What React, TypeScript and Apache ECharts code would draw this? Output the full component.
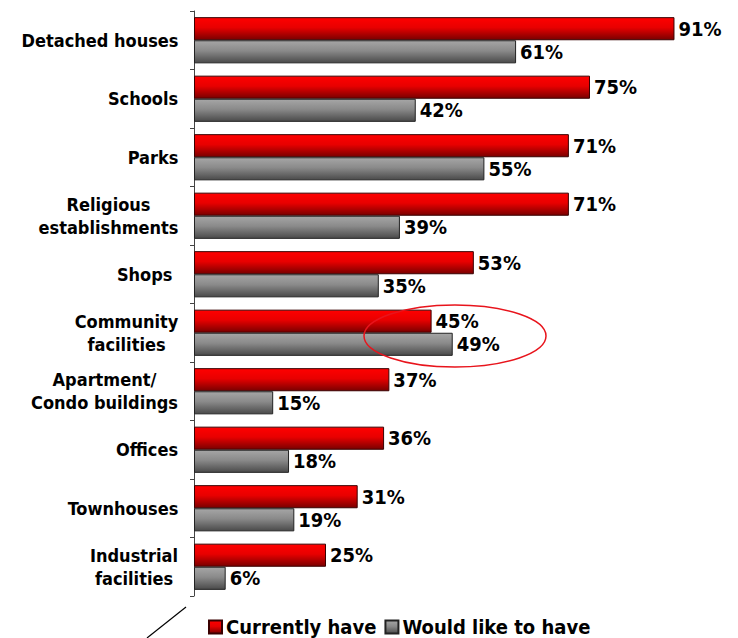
import React, { useEffect, useRef } from "react";
import * as echarts from "echarts";

const categories = [
  "Detached houses",
  "Schools",
  "Parks",
  "Religious\nestablishments",
  "Shops ",
  "Community\nfacilities",
  "Apartment/\nCondo buildings",
  "Offices",
  "Townhouses",
  "Industrial\nfacilities",
];
const currentlyHave = [91, 75, 71, 71, 53, 45, 37, 36, 31, 25];
const wouldLikeToHave = [61, 42, 55, 39, 35, 49, 15, 18, 19, 6];

const FONT = "'DejaVu Sans Condensed', 'DejaVu Sans', Verdana, sans-serif";
const CAT_SIZE = 18;

function measure(text: string, size: number) {
  const c = document.createElement("canvas").getContext("2d");
  if (!c) return text.length * size * 0.6;
  c.font = `bold ${size}px ${FONT}`;
  return c.measureText(text).width;
}

export default function App() {
  const ref = useRef<HTMLDivElement>(null);
  useEffect(() => {
    document.body.style.margin = "0";
    if (!ref.current) return;
    const chart = echarts.init(ref.current, null, { renderer: "svg" });
    const rich: Record<string, any> = {};
    categories.forEach((c, i) => {
      const w = Math.max(...c.split("\n").map((l) => measure(l, CAT_SIZE)));
      rich["c" + i] = {
        width: Math.ceil(w) + 1,
        align: "center",
        fontFamily: FONT,
        fontWeight: "bold",
        fontSize: CAT_SIZE,
        color: "#000",
        lineHeight: 23,
      };
    });
    const redGrad = new echarts.graphic.LinearGradient(0, 0, 0, 1, [
      { offset: 0, color: "#ff0000" },
      { offset: 0.45, color: "#e80000" },
      { offset: 1, color: "#7a0000" },
    ]);
    const grayGrad = new echarts.graphic.LinearGradient(0, 0, 0, 1, [
      { offset: 0, color: "#a6a6a6" },
      { offset: 0.45, color: "#8a8a8a" },
      { offset: 1, color: "#4a4a4a" },
    ]);
    const valueLabel = {
      show: true,
      position: "right",
      distance: 4,
      formatter: "{c}%",
      fontFamily: FONT,
      fontWeight: "bold",
      fontSize: 20,
      color: "#000",
    };
    chart.setOption({
      animation: false,
      backgroundColor: "#fff",
      grid: { left: 194, right: 16, top: 11, bottom: 42, containLabel: false },
      xAxis: { type: "value", min: 0, max: 100, show: false },
      yAxis: {
        type: "category",
        inverse: true,
        data: categories,
        axisLine: { show: true, lineStyle: { color: "#444", width: 1 } },
        axisTick: { show: true, length: 4, lineStyle: { color: "#444" } },
        axisLabel: {
          margin: 15,
          align: "right",
          formatter: (v: string, i: number) =>
            v
              .split("\n")
              .map((l) => `{c${i}|${l}}`)
              .join("\n"),
          rich,
        },
      },
      legend: {
        left: 208,
        top: 617,
        padding: 0,
        itemWidth: 13,
        itemHeight: 13,
        itemGap: 8,
        icon: "rect",
        textStyle: {
          fontFamily: FONT,
          fontWeight: "bold",
          fontSize: 20,
          lineHeight: 20,
          color: "#000",
          padding: [0, 0, 0, -1],
        },
        data: ["Currently have", "Would like to have"],
      },
      series: [
        {
          name: "Currently have",
          type: "bar",
          data: currentlyHave,
          barGap: "0%",
          barCategoryGap: "21%",
          itemStyle: { color: redGrad, borderColor: "#3a0000", borderWidth: 1 },
          label: valueLabel,
        },
        {
          name: "Would like to have",
          type: "bar",
          data: wouldLikeToHave,
          itemStyle: { color: grayGrad, borderColor: "#222", borderWidth: 1 },
          label: valueLabel,
        },
      ],
      graphic: [
        {
          type: "ellipse",
          shape: { cx: 455, cy: 336, rx: 91, ry: 31 },
          style: { fill: "none", stroke: "#e8141c", lineWidth: 1.5 },
          z: 100,
        },
        {
          type: "line",
          shape: { x1: 186, y1: 607, x2: 147, y2: 638 },
          style: { stroke: "#000", lineWidth: 1.2 },
          z: 100,
        },
      ],
    });
    return () => chart.dispose();
  }, []);
  return <div ref={ref} style={{ width: 738, height: 638 }} />;
}
